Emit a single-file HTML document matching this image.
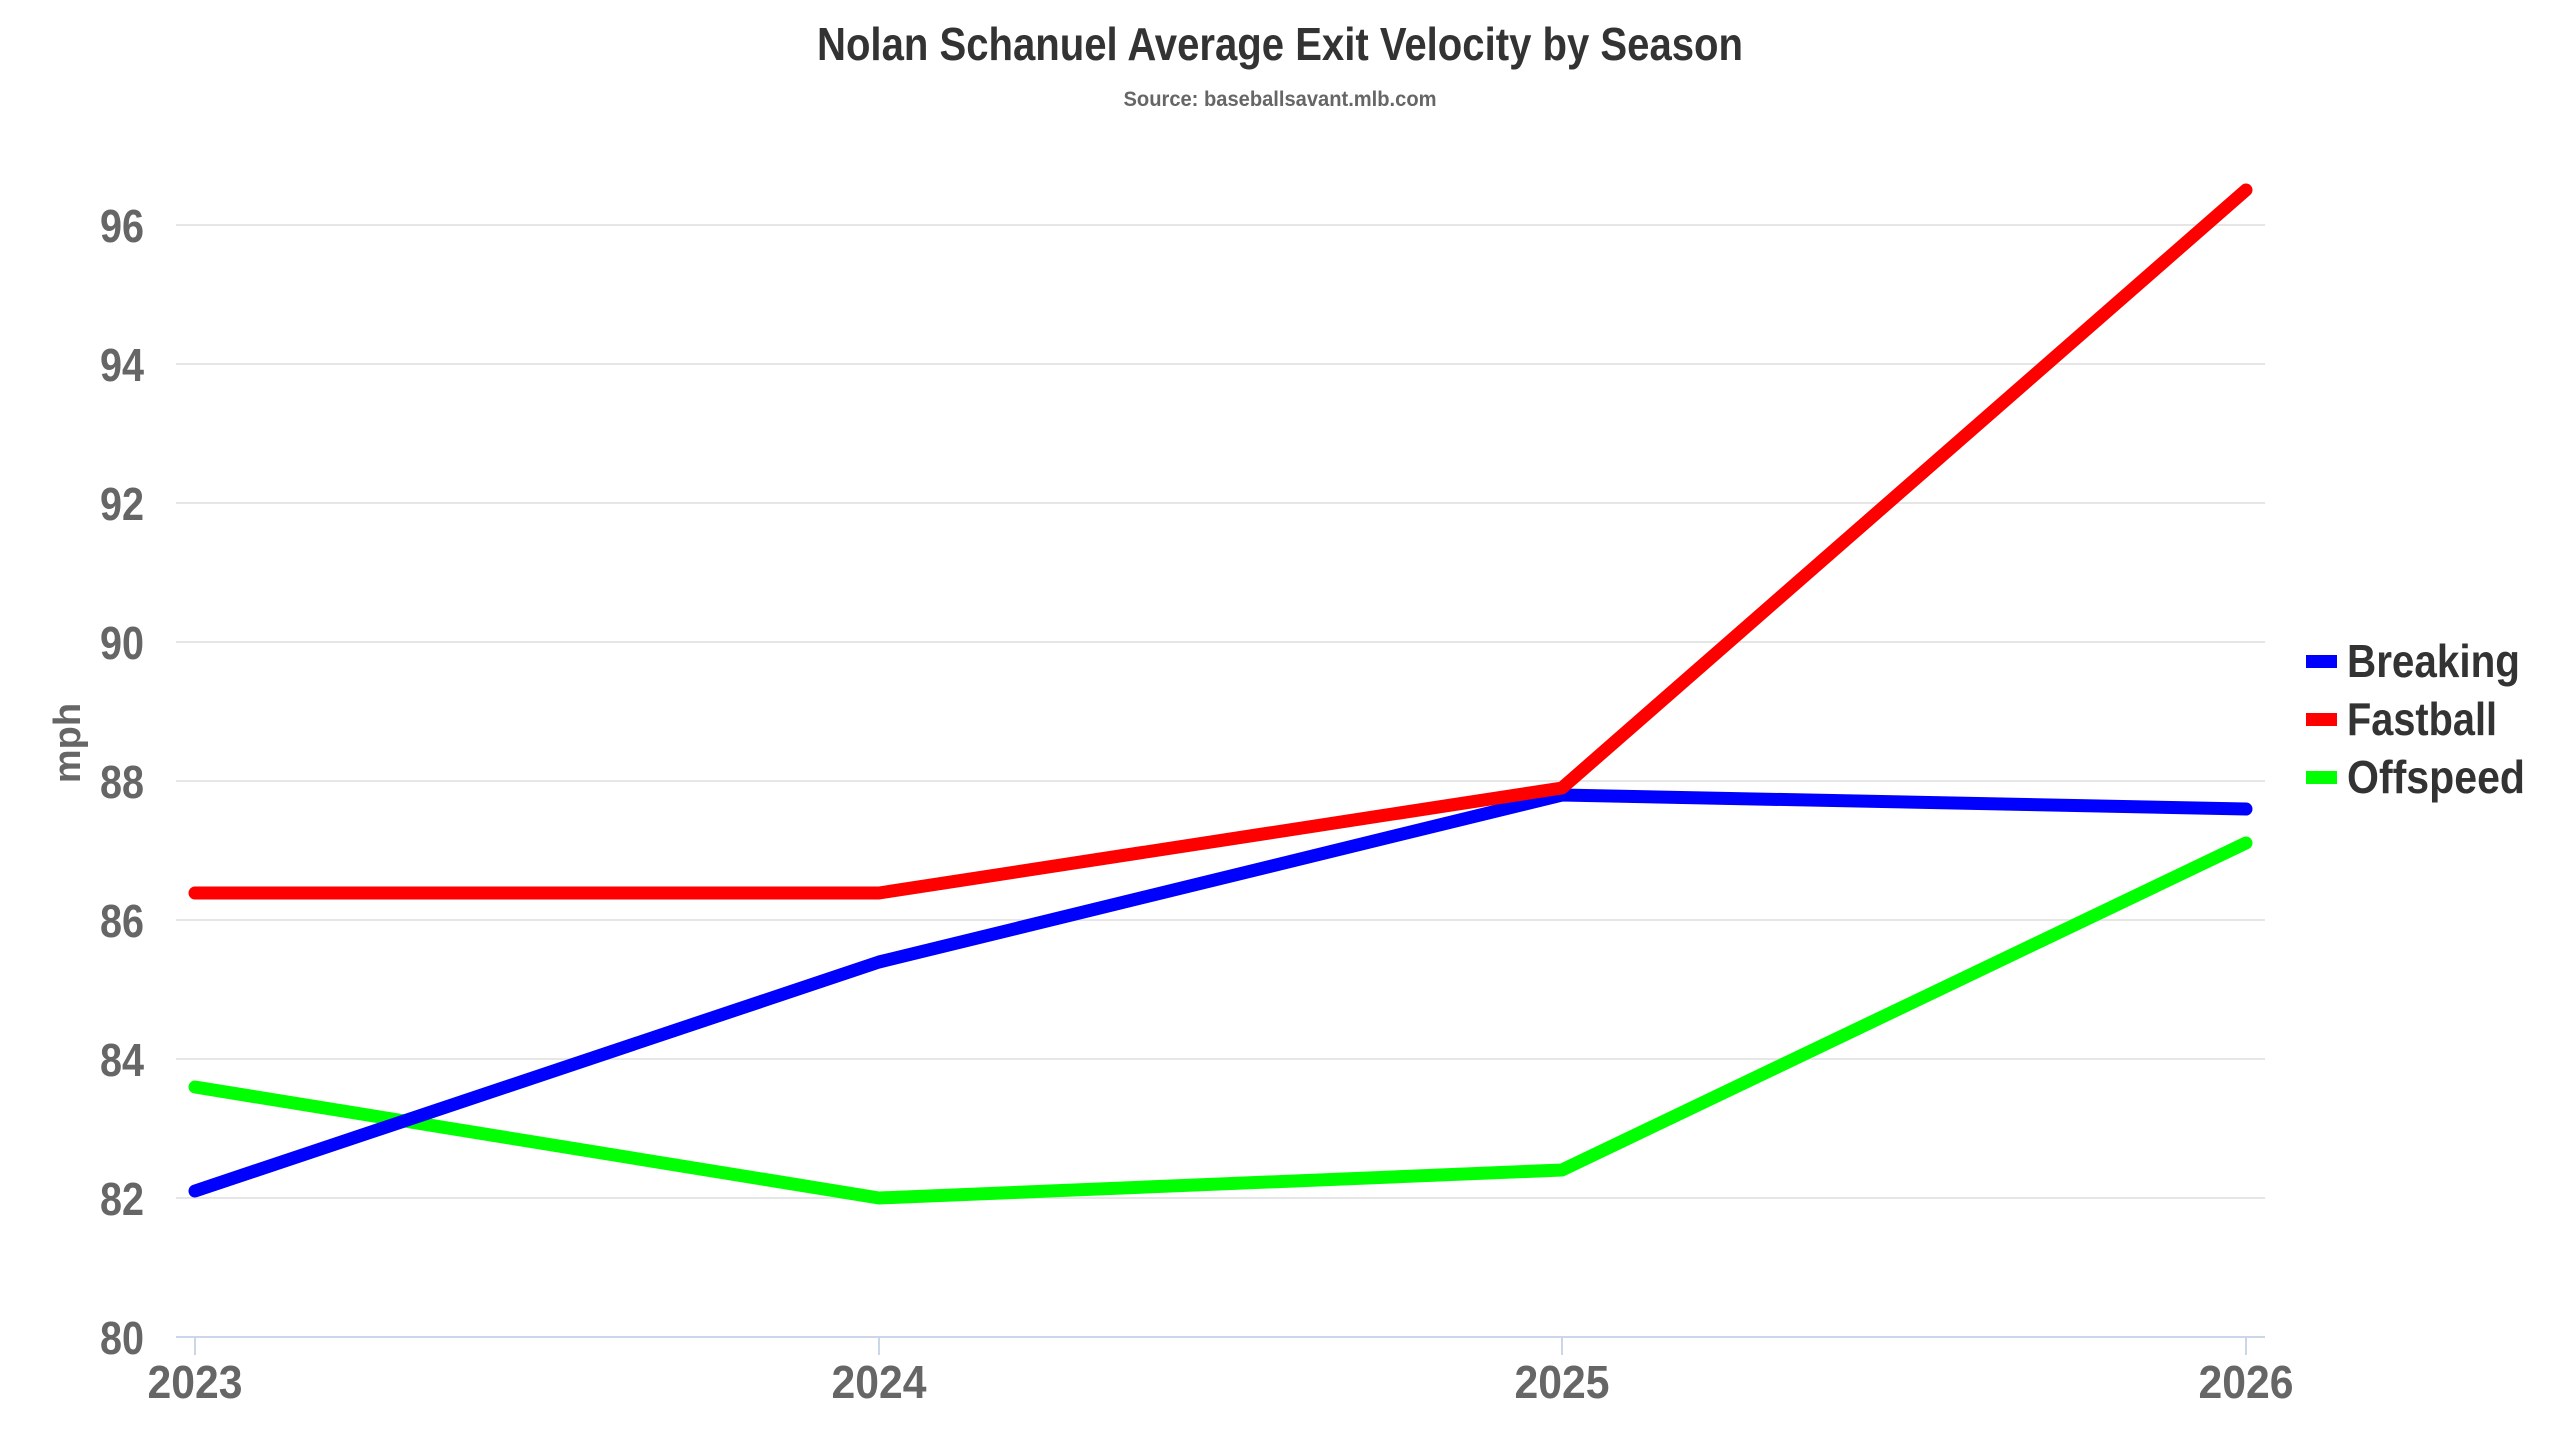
<!DOCTYPE html>
<html><head><meta charset="utf-8"><style>
html,body{margin:0;padding:0;background:#fff;}
svg{display:block;}
text{font-family:"Liberation Sans",sans-serif;font-weight:bold;}
</style></head><body>
<svg width="2560" height="1440" viewBox="0 0 2560 1440" xmlns="http://www.w3.org/2000/svg">
<rect width="2560" height="1440" fill="#fff"/>
<text x="1280" y="60" text-anchor="middle" font-size="46" fill="#333" textLength="926" lengthAdjust="spacingAndGlyphs">Nolan Schanuel Average Exit Velocity by Season</text>
<text x="1280" y="106" text-anchor="middle" font-size="21" fill="#666" textLength="313" lengthAdjust="spacingAndGlyphs">Source: baseballsavant.mlb.com</text>
<g stroke="#e6e6e6" stroke-width="2">
<line x1="176" x2="2265" y1="225" y2="225"/>
<line x1="176" x2="2265" y1="364" y2="364"/>
<line x1="176" x2="2265" y1="503" y2="503"/>
<line x1="176" x2="2265" y1="642" y2="642"/>
<line x1="176" x2="2265" y1="781" y2="781"/>
<line x1="176" x2="2265" y1="920" y2="920"/>
<line x1="176" x2="2265" y1="1059" y2="1059"/>
<line x1="176" x2="2265" y1="1198" y2="1198"/>
</g>
<line x1="176" x2="2265" y1="1337" y2="1337" stroke="#ccd6eb" stroke-width="2"/>
<g stroke="#ccd6eb" stroke-width="2">
<line x1="195" x2="195" y1="1337" y2="1355"/>
<line x1="879" x2="879" y1="1337" y2="1355"/>
<line x1="1562" x2="1562" y1="1337" y2="1355"/>
<line x1="2246" x2="2246" y1="1337" y2="1355"/>
</g>
<g font-size="46" fill="#666" text-anchor="end">
<text x="144" y="242" textLength="44" lengthAdjust="spacingAndGlyphs">96</text>
<text x="144" y="381" textLength="44" lengthAdjust="spacingAndGlyphs">94</text>
<text x="144" y="520" textLength="44" lengthAdjust="spacingAndGlyphs">92</text>
<text x="144" y="659" textLength="44" lengthAdjust="spacingAndGlyphs">90</text>
<text x="144" y="798" textLength="44" lengthAdjust="spacingAndGlyphs">88</text>
<text x="144" y="937" textLength="44" lengthAdjust="spacingAndGlyphs">86</text>
<text x="144" y="1076" textLength="44" lengthAdjust="spacingAndGlyphs">84</text>
<text x="144" y="1215" textLength="44" lengthAdjust="spacingAndGlyphs">82</text>
<text x="144" y="1354" textLength="44" lengthAdjust="spacingAndGlyphs">80</text>
</g>
<g font-size="46" fill="#666" text-anchor="middle">
<text x="195" y="1398" textLength="95" lengthAdjust="spacingAndGlyphs">2023</text>
<text x="879" y="1398" textLength="95" lengthAdjust="spacingAndGlyphs">2024</text>
<text x="1562" y="1398" textLength="95" lengthAdjust="spacingAndGlyphs">2025</text>
<text x="2246" y="1398" textLength="95" lengthAdjust="spacingAndGlyphs">2026</text>
</g>
<text transform="translate(80,743) rotate(-90)" text-anchor="middle" font-size="38" fill="#666">mph</text>
<g fill="none" stroke-width="13" stroke-linejoin="round" stroke-linecap="round">
<polyline stroke="#00ff00" points="195,1087 879,1198 1562,1170 2246,843"/>
<polyline stroke="#0000ff" points="195,1191 879,962 1562,795 2246,809"/>
<polyline stroke="#ff0000" points="195,893 879,893 1562,788 2246,190"/>
</g>
<rect x="2306" y="655" width="31" height="13" fill="#0000ff"/>
<rect x="2306" y="713" width="31" height="13" fill="#ff0000"/>
<rect x="2306" y="771" width="31" height="13" fill="#00ff00"/>
<g font-size="46" fill="#333">
<text x="2347" y="677" textLength="173" lengthAdjust="spacingAndGlyphs">Breaking</text>
<text x="2347" y="735" textLength="150" lengthAdjust="spacingAndGlyphs">Fastball</text>
<text x="2347" y="793" textLength="178" lengthAdjust="spacingAndGlyphs">Offspeed</text>
</g>
</svg>
</body></html>
